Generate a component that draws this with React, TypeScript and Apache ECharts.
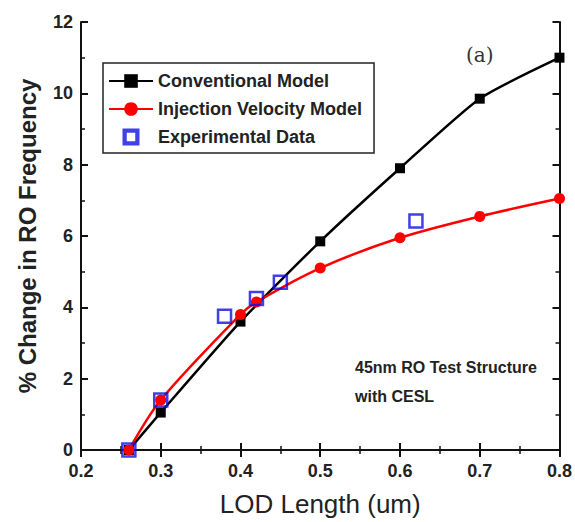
import React, { useEffect, useRef } from "react";
import * as echarts from "echarts";

const convX = [0.26, 0.3, 0.4, 0.5, 0.6, 0.7, 0.8];
const convY = [0, 1.05, 3.6, 5.85, 7.9, 9.85, 11.0];
const injX = [0.26, 0.3, 0.4, 0.42, 0.5, 0.6, 0.7, 0.8];
const injY = [0, 1.4, 3.8, 4.15, 5.1, 5.95, 6.55, 7.05];
const expX = [0.26, 0.3, 0.38, 0.42, 0.45, 0.62];
const expY = [0, 1.4, 3.75, 4.25, 4.7, 6.42];

const seriesNames = ["Conventional Model", "Injection Velocity Model", "Experimental Data"];

export default function App() {
  const ref = useRef<HTMLDivElement>(null);
  useEffect(() => {
    if (!ref.current) return;
    const chart = echarts.init(ref.current, null, { renderer: "svg" });
    const font = "Arial, 'Liberation Sans', sans-serif";
    const axisCommon = {
      axisLine: { lineStyle: { color: "#111", width: 2 } },
      axisTick: { inside: true, length: 7, lineStyle: { color: "#111", width: 2 } },
      minorTick: { show: true, splitNumber: 2, length: 4, lineStyle: { color: "#111", width: 1.5 } },
      splitLine: { show: false },
    };
    chart.setOption({
      animation: false,
      backgroundColor: "#fff",
      grid: { left: 81, top: 22, right: 15, bottom: 64 },
      legend: {
        orient: "vertical",
        left: 103,
        top: 63,
        padding: [9, 12, 7, 5],
        itemGap: 10,
        itemWidth: 44,
        itemHeight: 17,
        borderColor: "#222",
        borderWidth: 1.5,
        data: [
          { name: seriesNames[0] },
          { name: seriesNames[1] },
          {
            name: seriesNames[2],
            icon: "path://M0,0 L10,0 L10,10 L0,10 Z M2.5,2.5 L2.5,7.5 L7.5,7.5 L7.5,2.5 Z",
            itemStyle: { color: "#1010e0", borderWidth: 0 },
          },
        ],
        textStyle: { fontFamily: font, fontWeight: "bold", fontSize: 18, color: "#222" },
      },
      xAxis: [
        {
          type: "value",
          min: 0.2,
          max: 0.8,
          interval: 0.1,
          ...axisCommon,
          axisLabel: {
            fontFamily: font,
            fontWeight: "bold",
            fontSize: 18,
            color: "#222",
            margin: 12,
            formatter: (v: number) => v.toFixed(1),
          },
          name: "LOD Length (um)",
          nameLocation: "middle",
          nameGap: 41,
          nameTextStyle: { fontFamily: font, fontSize: 26, color: "#222" },
        },
        {
          type: "value",
          position: "top",
          min: 0.2,
          max: 0.8,
          interval: 0.1,
          ...axisCommon,
          axisLabel: { show: false },
        },
      ],
      yAxis: [
        {
          type: "value",
          min: 0,
          max: 12,
          interval: 2,
          ...axisCommon,
          axisLabel: { fontFamily: font, fontWeight: "bold", fontSize: 18, color: "#222", margin: 8 },
          name: "% Change in RO Frequency",
          nameLocation: "middle",
          nameGap: 42,
          nameTextStyle: { fontFamily: font, fontWeight: "bold", fontSize: 24, color: "#222" },
        },
        {
          type: "value",
          position: "right",
          min: 0,
          max: 12,
          interval: 2,
          ...axisCommon,
          axisLabel: { show: false },
        },
      ],
      graphic: [
        {
          type: "text",
          left: 466,
          top: 45,
          style: { text: "(a)", fontFamily: "'DejaVu Serif', 'Liberation Serif', serif", fontSize: 20, fill: "#333" },
        },
        {
          type: "text",
          left: 355,
          top: 353,
          style: {
            text: "45nm RO Test Structure\nwith CESL",
            fontFamily: font,
            fontWeight: "bold",
            fontSize: 16,
            lineHeight: 29,
            fill: "#222",
          },
        },
      ],
      series: [
        {
          name: seriesNames[0],
          type: "line",
          smooth: 0.2,
          data: convX.map((x, i) => [x, convY[i]]),
          symbol: "rect",
          symbolSize: 10,
          color: "#000",
          lineStyle: { color: "#000", width: 2.5 },
          itemStyle: { color: "#000" },
          z: 2,
        },
        {
          name: seriesNames[1],
          type: "line",
          smooth: 0.3,
          data: injX.map((x, i) => [x, injY[i]]),
          symbol: "circle",
          symbolSize: 11,
          color: "#ff0000",
          lineStyle: { color: "#ff0000", width: 2.5 },
          itemStyle: { color: "#ff0000" },
          z: 3,
        },
        {
          name: seriesNames[2],
          type: "scatter",
          data: expX.map((x, i) => [x, expY[i]]),
          symbol: "rect",
          symbolSize: 13,
          itemStyle: { color: "rgba(255,255,255,0)", borderColor: "#1010e0", borderWidth: 2.5 },
          z: 4,
        },
      ],
    });
    return () => chart.dispose();
  }, []);
  return <div ref={ref} style={{ width: 575, height: 522, position: "absolute", left: 0, top: 0 }} />;
}
